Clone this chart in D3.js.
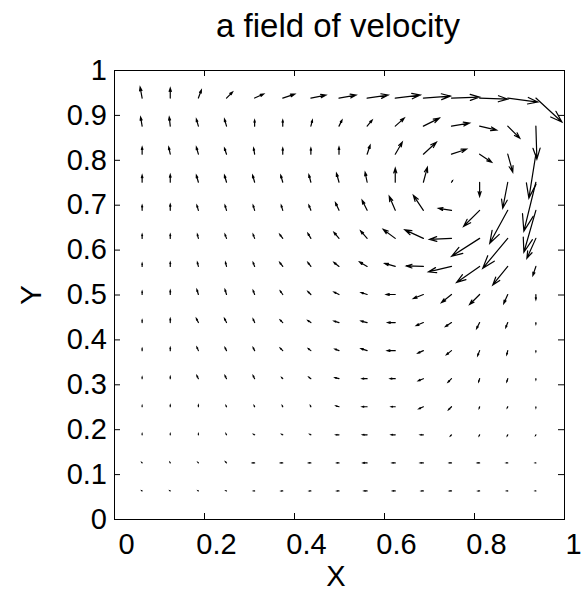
<!DOCTYPE html>
<html>
<head>
<meta charset="utf-8">
<script src="https://cdn.jsdelivr.net/npm/d3@7"></script>
<style>
  body { margin: 0; background: #fff; }
  svg text { font-family: "Liberation Sans", Arial, Helvetica, sans-serif; fill: #000; }
</style>
</head>
<body>
<svg id="chart" width="583" height="594"></svg>
<script>
// grid of sample points (x left to right, y top to bottom)
const gridX = [0.0625, 0.125, 0.1875, 0.25, 0.3125, 0.375, 0.4375, 0.5, 0.5625, 0.625, 0.6875, 0.75, 0.8125, 0.875, 0.9375];
const gridY = [0.9375, 0.875, 0.8125, 0.75, 0.6875, 0.625, 0.5625, 0.5, 0.4375, 0.375, 0.3125, 0.25, 0.1875, 0.125, 0.0625];

// velocity components, one row per gridY value
const velU = [
  [-2, 0, 3, 6, 9, 12, 15, 17, 21, 25, 27, 28, 28, 30, 26],
  [-1.5, -1, -2, -2, 0, 0, 1.5, 3, 5, 9, 16, 18, 17, 12, 1],
  [0, -1.5, -2, -2, -1, 0, 0, 0, 3, 7, 13, 15, 12, 5, -7],
  [0, 0, -2, -2, -2, -2, -2, -2.5, -2, 0, 4, 1, 0, -5, -12],
  [0, 0, -1.5, -1.5, -1.5, -1.5, -2, -3.5, -5, -6, -10, -13, -16, -18, -12],
  [0, 0, -1, -1.5, -1.5, -3, -3, -5, -6.5, -12, -18.5, -22, -28, -25, -9],
  [0, 0, -1, -1, -1.5, -3, -3, -5, -7.5, -10.5, -17, -23, -23, -15, -3],
  [0, 0, -1.5, -1.5, -1.5, -2.5, -3, -5, -6, -9, -10, -10, -10, -4, 0],
  [0, 0, -2, -2, -1.5, -2.5, -3, -5, -6, -7.5, -7, -6, -3, -2, 0],
  [0, 0, -1.5, -1.5, -1.5, -2.5, -2.5, -4, -6, -8, -5.5, -5, -2, -1, 0],
  [0, 0, -1.5, -1.5, -1.5, -1, -2, -4, -5, -5, -5, -3.5, -1, -1, 0],
  [0, 0, 0, -0.5, -0.5, -0.5, -0.5, -3, -5, -4, -4.5, -3, -0.5, -0.5, 0],
  [0, 0, 0, -0.5, -1, -1, -1, -3, -4.5, -4, -3, -1, -0.5, -0.5, -0.3],
  [-0.3, -0.3, -0.5, -1, -2, -2, -2, -2, -4, -3, -3, -2, -2, -1.5, -0.5],
  [-0.3, -0.3, -0.3, -0.5, -1, -1.5, -1.5, -2, -3, -2.5, -2, -2, -1.5, -1, -0.5]
];
const velV = [
  [11, 10, 8, 6, 4, 4, 3, 3, 3, 3, 2, 1, -1, -4, -24],
  [9, 9, 7, 7, 6, 6, 6, 6, 6, 8, 8, 3, -4, -12, -33],
  [7, 7, 7, 6, 6, 6, 6, 7, 9, 12, 12, 5, -8, -18, -44],
  [7, 7.5, 7, 7, 7, 7, 7.5, 9, 10, 14, 15, 1.5, -14, -26, -49],
  [5, 6, 5, 5, 5, 5, 5, 7.5, 10, 14, 15, 2, -16, -33, -42],
  [4, 4, 4, 4, 4, 4, 5, 6, 7.5, 9, 8.5, -1, -18, -30, -20],
  [3, 4, 4, 4, 4, 4, 4, 4, 4.5, 3, 0.5, -5.5, -16, -18.5, -9],
  [3, 4, 5, 5, 4, 3.5, 3, 2.5, 2, 0, -4, -8, -10, -9, -5],
  [2.5, 4, 4, 4, 3.5, 2.5, 2, 1.5, 1.5, 0, -3, -4, -6, -5, -1.5],
  [2, 3, 3.5, 3, 3, 2.5, 2, 1.5, 2, 0, -2.5, -4, -5, -4, -1],
  [1.5, 2, 3, 3, 3, 1, 1.5, 1, 0, 0, -2, -3.5, -3, -3, -1],
  [1, 1.5, 1.5, 1, 1, 1, 1, 1, 0, 0, -2, -3, -1.5, -1, -1],
  [1, 1, 1, 1, 0.5, 0.5, 0.5, 0, 0, 0, 0, -1, -1, -1, -0.5],
  [0.3, 0.5, 0.5, 1, 0, 0, 0, 0, 0, 0, 0, 0, 0, 0, 0],
  [0.2, 0.2, 0.2, 0.2, 0, 0, 0, 0, 0, 0, 0, 0, 0, 0, 0]
];

const xTicks = [0, 0.2, 0.4, 0.6, 0.8, 1];
const yTicks = [0, 0.1, 0.2, 0.3, 0.4, 0.5, 0.6, 0.7, 0.8, 0.9, 1];

const titleText = "a field of velocity";
const xLabel = "X";
const yLabel = "Y";

/* Quiver plot in the style of matlab: a box with inward ticks, and an arrow for every grid point. */
function createQuiver() {
    const svg = d3.select("#chart");
    const left = 114, right = 564, top = 70, bottom = 519;
    const quiverScale = 1 / 450;   // velocity unit -> axis unit
    const alpha = 0.33, beta = 0.33;

    const xScale = d3.scaleLinear().domain([0, 1]).range([left, right]);
    const yScale = d3.scaleLinear().domain([0, 1]).range([bottom, top]);

    const arrows = [];
    gridY.forEach((y, r) => {
        gridX.forEach((x, c) => {
            arrows.push({ x, y, u: velU[r][c] * quiverScale, v: velV[r][c] * quiverScale });
        });
    });

    const fmt = d => String(d);

    svg.append("g")
        .attr("transform", `translate(0,${bottom})`)
        .call(d3.axisBottom(xScale).tickValues(xTicks).tickSizeInner(-6).tickSizeOuter(0).tickPadding(14).tickFormat(fmt))
        .call(g => g.selectAll("text").attr("dx", d => d === 1 ? 9 : 12).style("font-size", "29px"));

    svg.append("g")
        .attr("transform", `translate(0,${top})`)
        .call(d3.axisTop(xScale).tickValues(xTicks).tickSizeInner(-6).tickSizeOuter(0).tickFormat(""));

    svg.append("g")
        .attr("transform", `translate(${left},0)`)
        .call(d3.axisLeft(yScale).tickValues(yTicks).tickSizeInner(-6).tickSizeOuter(0).tickPadding(7).tickFormat(fmt))
        .call(g => g.selectAll("text").style("font-size", "29px"));

    svg.append("g")
        .attr("transform", `translate(${right},0)`)
        .call(d3.axisRight(yScale).tickValues(yTicks).tickSizeInner(-6).tickSizeOuter(0).tickFormat(""));

    svg.selectAll(".domain").remove();
    svg.selectAll(".tick line").attr("stroke", "#000").attr("stroke-width", 1);

    svg.append("rect")
        .attr("x", left + 0.5)
        .attr("y", top + 0.5)
        .attr("width", right - left)
        .attr("height", bottom - top)
        .style("fill", "none")
        .style("stroke", "#000")
        .style("stroke-width", 1);

    // shaft plus the two barbs of the head
    svg.append("g")
        .selectAll("path")
        .data(arrows)
        .enter().append("path")
        .attr("d", d => {
            const tx = d.x + d.u, ty = d.y + d.v;
            const h1x = tx - alpha * (d.u + beta * d.v), h1y = ty - alpha * (d.v - beta * d.u);
            const h2x = tx - alpha * (d.u - beta * d.v), h2y = ty - alpha * (d.v + beta * d.u);
            return `M${xScale(d.x)},${yScale(d.y)}L${xScale(tx)},${yScale(ty)}` +
                `M${xScale(h1x)},${yScale(h1y)}L${xScale(tx)},${yScale(ty)}L${xScale(h2x)},${yScale(h2y)}`;
        })
        .style("fill", "none")
        .style("stroke", "#000")
        .style("stroke-width", 1.2)
        .style("stroke-linecap", "round");

    svg.append("text")
        .attr("x", 338)
        .attr("y", 37)
        .attr("text-anchor", "middle")
        .style("font-size", "33px")
        .text(titleText);

    svg.append("text")
        .attr("x", 336)
        .attr("y", 586)
        .attr("text-anchor", "middle")
        .style("font-size", "29px")
        .text(xLabel);

    svg.append("text")
        .attr("transform", "translate(41,295) rotate(-90)")
        .attr("text-anchor", "middle")
        .style("font-size", "30px")
        .text(yLabel);
}

createQuiver();
</script>
</body>
</html>
